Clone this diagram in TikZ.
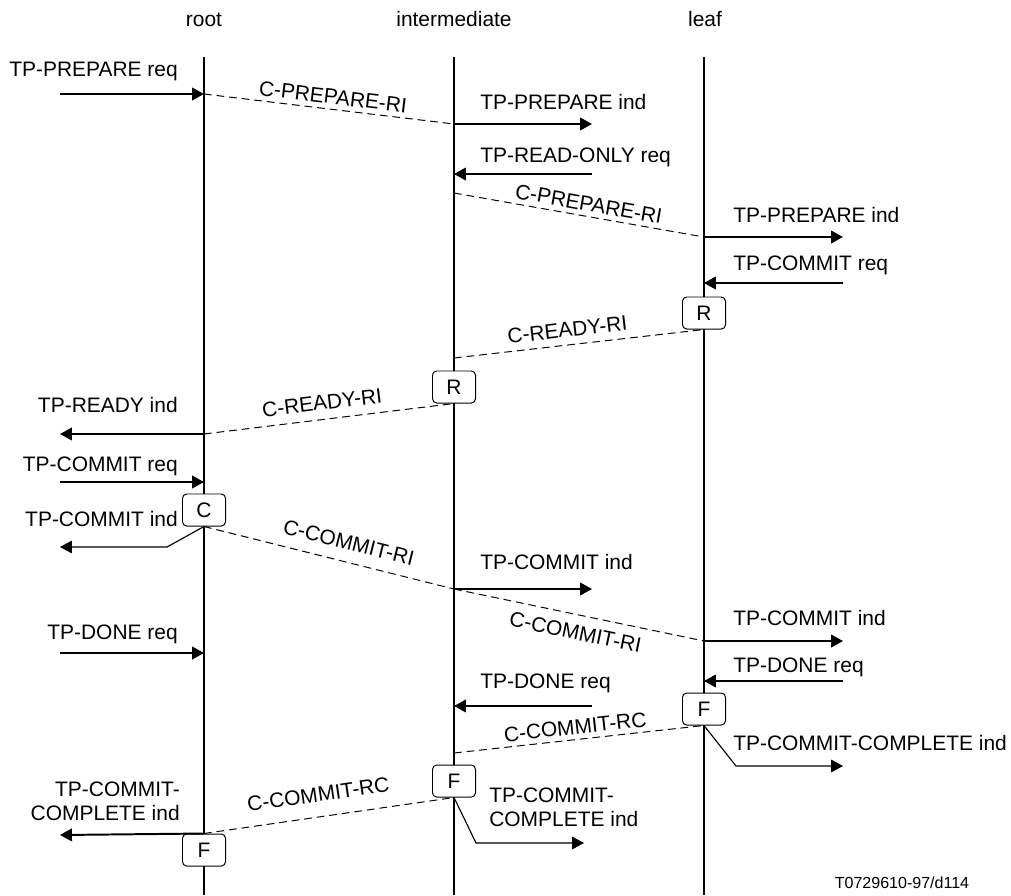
\documentclass[tikz,border=0pt]{standalone}
\usepackage{fontspec}
\setmainfont{Liberation Sans}
\usetikzlibrary{arrows.meta,positioning}

\begin{document}
\begin{tikzpicture}[x=0.025cm, y=-0.025cm,
	font=\fontsize{14.9}{17}\selectfont,
	life/.style={line width=1.4pt},
	prim/.style={line width=1.4pt, -{Triangle[length=8.5pt, width=9pt]}},
	bent/.style={line width=0.8pt, -{Triangle[length=8.5pt, width=9pt]}},
	pdu/.style={line width=0.7pt, dash pattern=on 5.5pt off 3.5pt},
	stbox/.style={draw, fill=white, rounded corners=3pt, line width=0.7pt,
		minimum width=1.075cm, minimum height=0.8cm, inner sep=0pt},
	lbl/.style={inner sep=0pt}
]
	\useasboundingbox (0,0) rectangle (1011,895);

	% Entities
	\node[lbl, anchor=base] (hroot) at (204,26) {root};
	\node[lbl, anchor=base] (hinter) at (454,26) {intermediate};
	\node[lbl, anchor=base] (hleaf) at (705,26) {leaf};

	\coordinate (rootT) at (204,57);  \coordinate (rootB) at (204,895);
	\coordinate (interT) at (454,57); \coordinate (interB) at (454,895);
	\coordinate (leafT) at (704,57);  \coordinate (leafB) at (704,895);

	\draw[life] (rootT) -- (rootB);
	\draw[life] (interT) -- (interB);
	\draw[life] (leafT) -- (leafB);

	% Points on the lifelines
	\coordinate (rA) at (204,94);  \coordinate (rB) at (204,434);
	\coordinate (rC) at (204,482); \coordinate (rD) at (204,653);
	\coordinate (iA) at (454,124); \coordinate (iB) at (454,174);
	\coordinate (iC) at (454,193); \coordinate (iD) at (454,358);
	\coordinate (iE) at (454,589); \coordinate (iF) at (454,706);
	\coordinate (iG) at (454,753);
	\coordinate (lA) at (704,237); \coordinate (lB) at (704,283);
	\coordinate (lC) at (704,641); \coordinate (lD) at (704,681);

	% Free ends of the primitives
	\coordinate (oA) at (60,94);   \coordinate (oB) at (60,434);
	\coordinate (oC) at (60,482);  \coordinate (oD) at (60,547);
	\coordinate (oE) at (60,653);  \coordinate (oF) at (60,835);
	\coordinate (kD) at (167,547);
	\coordinate (pA) at (592,124); \coordinate (pB) at (592,174);
	\coordinate (pE) at (592,589); \coordinate (pF) at (592,706);
	\coordinate (pG) at (584,843); \coordinate (kG) at (476,843);
	\coordinate (qA) at (843,237); \coordinate (qB) at (843,283);
	\coordinate (qC) at (843,641); \coordinate (qD) at (843,681);
	\coordinate (qE) at (843,766); \coordinate (kE) at (736,766);

	% State boxes
	\node[stbox] (lR) at (704,313) {R};
	\node[stbox] (iR) at (454,387) {R};
	\node[stbox] (rCb) at (204,510) {C};
	\node[stbox] (lF) at (704,709) {F};
	\node[stbox] (iFb) at (454,781) {F};
	\node[stbox] (rF) at (204,850) {F};

	% Prepare phase
	\node[lbl, anchor=base east] (tpPrepReq) at (178,76) {TP-PREPARE req};
	\draw[prim] (oA) -- (rA);
	\draw[pdu] (rA) -- node[pos=.51, sloped, above=0pt] (cPrep1) {C-PREPARE-RI} (iA);
	\node[lbl, anchor=base west] (tpPrepInd1) at (480,109) {TP-PREPARE ind};
	\draw[prim] (iA) -- (pA);
	\node[lbl, anchor=base west] (tpReadOnly) at (480,162) {TP-READ-ONLY req};
	\draw[prim] (pB) -- (iB);
	\draw[pdu] (iC) -- node[pos=.53, sloped, above=0pt] (cPrep2) {C-PREPARE-RI} (lA);
	\node[lbl, anchor=base west] (tpPrepInd2) at (733,222) {TP-PREPARE ind};
	\draw[prim] (lA) -- (qA);
	\node[lbl, anchor=base west] (tpComReqL) at (733,270) {TP-COMMIT req};
	\draw[prim] (qB) -- (lB);

	% Ready
	\draw[pdu] (iD) -- node[pos=.46, sloped, above=2pt] (cReady1) {C-READY-RI} (lR.south);
	\draw[pdu] (rB) -- node[pos=.48, sloped, above=3pt] (cReady2) {C-READY-RI} (iR.south);
	\node[lbl, anchor=base east] (tpReadyInd) at (178,412) {TP-READY ind};
	\draw[prim] (rB) -- (oB);

	% Commit
	\node[lbl, anchor=base east] (tpComReqR) at (178,471) {TP-COMMIT req};
	\draw[prim] (oC) -- (rC);
	\node[lbl, anchor=base east] (tpComIndR) at (178,526) {TP-COMMIT ind};
	\draw[bent] (rCb.south) -- (kD) -- (oD);
	\draw[pdu] (rCb.south) -- node[pos=.56, sloped, above=5pt] (cCom1) {C-COMMIT-RI} (iE);
	\node[lbl, anchor=base west] (tpComIndI) at (480,569) {TP-COMMIT ind};
	\draw[prim] (iE) -- (pE);
	\draw[pdu] (iE) -- node[pos=.5, sloped, below=3.5pt] (cCom2) {C-COMMIT-RI} (lC);
	\node[lbl, anchor=base west] (tpComIndL) at (733,625) {TP-COMMIT ind};
	\draw[prim] (lC) -- (qC);

	% Done
	\node[lbl, anchor=base east] (tpDoneR) at (178,639) {TP-DONE req};
	\draw[prim] (oE) -- (rD);
	\node[lbl, anchor=base west] (tpDoneL) at (733,672) {TP-DONE req};
	\draw[prim] (qD) -- (lD);
	\node[lbl, anchor=base west] (tpDoneI) at (480,688) {TP-DONE req};
	\draw[prim] (pF) -- (iF);

	% Commit complete
	\draw[pdu] (iG) -- node[pos=.49, sloped, above=0pt] (cRc1) {C-COMMIT-RC} (lF.south);
	\node[lbl, anchor=base west] (tpCcL) at (733,750) {TP-COMMIT-COMPLETE ind};
	\draw[bent] (lF.south) -- (kE) -- (qE);
	\node[lbl, anchor=west, align=left] (tpCcI) at (489,807) {TP-COMMIT-\\COMPLETE ind};
	\draw[bent] (iFb.south) -- (kG) -- (pG);
	\draw[pdu] (rF.north) -- node[pos=.47, sloped, above=7pt] (cRc2) {C-COMMIT-RC} (iFb.south);
	\node[lbl, anchor=east, align=right] (tpCcR) at (180,801) {TP-COMMIT-\\COMPLETE ind};
	\draw[prim] (rF.north) -- (oF);

	% Figure number
	\node[lbl, anchor=base, font=\fontsize{11.4}{13}\selectfont] (fignum) at (902,888) {T0729610-97/d114};
\end{tikzpicture}
\end{document}
